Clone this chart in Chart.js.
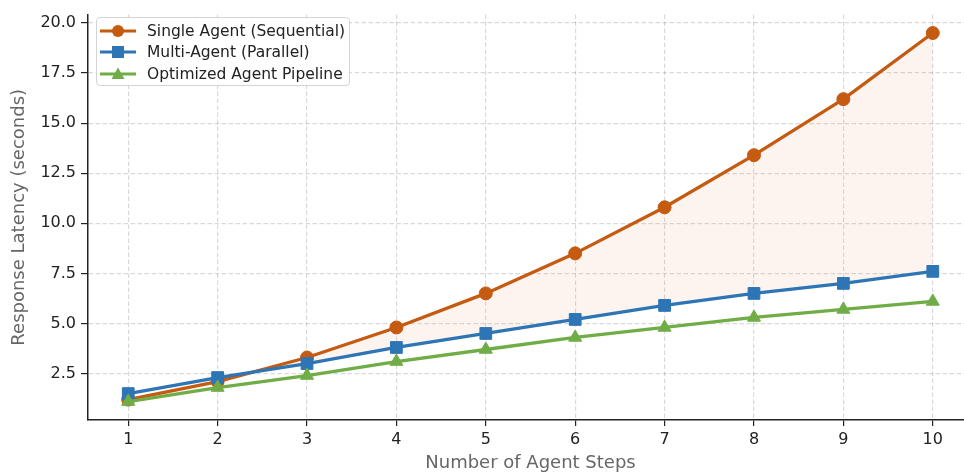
<!DOCTYPE html>
<html>
<head>
<meta charset="utf-8">
<script src="https://cdn.jsdelivr.net/npm/chart.js@4/dist/chart.umd.min.js"></script>
<style>
  html, body { margin: 0; padding: 0; background: #fff; overflow: hidden; }
  #wrap { position: absolute; left: 0; top: 0; width: 1000px; height: 480px; }
  #legend {
    position: absolute; left: 96px; top: 17px; width: 254px; height: 69px;
    border: 1px solid #d4d4d4; border-radius: 4px; background: rgba(255,255,255,0.85);
    font-family: "DejaVu Sans", sans-serif; font-size: 15.5px; color: #222;
    padding-top: 2px; box-sizing: border-box;
  }
  .row { height: 21.5px; display: flex; align-items: center; white-space: nowrap; }
  .row svg { margin-left: 3px; margin-right: 11px; }
</style>
</head>
<body>
<div id="wrap">
  <canvas id="chart" width="1000" height="480"></canvas>
  <div id="legend"></div>
</div>
<script>
const steps = [1, 2, 3, 4, 5, 6, 7, 8, 9, 10];
const singleAgent = [1.2, 2.1, 3.3, 4.8, 6.5, 8.5, 10.8, 13.4, 16.2, 19.5];
const multiAgent = [1.5, 2.3, 3.0, 3.8, 4.5, 5.2, 5.9, 6.5, 7.0, 7.6];
const optimized = [1.1, 1.8, 2.4, 3.1, 3.7, 4.3, 4.8, 5.3, 5.7, 6.1];
const seriesNames = ['Single Agent (Sequential)', 'Multi-Agent (Parallel)', 'Optimized Agent Pipeline'];
const yTicks = [2.5, 5.0, 7.5, 10.0, 12.5, 15.0, 17.5, 20.0];

const orange = '#C55A11';
const blue = '#2E75B6';
const green = '#70AD47';
const font = 'DejaVu Sans';

function pts(values) {
    return steps.map((s, i) => ({ x: s, y: values[i] }));
}

function lineSet(label, values, color, style, radius, order) {
    return {
        label: label,
        data: pts(values),
        borderColor: color,
        backgroundColor: color,
        borderWidth: 3.3,
        pointStyle: style,
        pointRadius: radius,
        pointHoverRadius: radius,
        pointBackgroundColor: color,
        pointBorderColor: color,
        pointBorderWidth: 1,
        tension: 0,
        fill: false,
        order: order
    };
}

const single = lineSet(seriesNames[0], singleAgent, orange, 'circle', 6.5, 3);
single.fill = { target: 1, above: 'rgba(230,120,60,0.08)', below: 'rgba(0,0,0,0)' };

const datasets = [
    single,
    lineSet(seriesNames[1], multiAgent, blue, 'rect', 8.3, 2),
    lineSet(seriesNames[2], optimized, green, 'triangle', 7.5, 1)
];

const gridStyle = {
    color: 'rgba(0,0,0,0.15)',
    lineWidth: 1.2,
    tickColor: '#222',
    tickWidth: 1.2,
    drawTicks: true
};

const chart = new Chart(document.getElementById('chart'), {
    type: 'line',
    data: { datasets: datasets },
    options: {
        responsive: false,
        animation: false,
        layout: { padding: { left: 0, top: 9, right: 27, bottom: 0 } },
        plugins: { legend: { display: false }, tooltip: { enabled: false } },
        scales: {
            x: {
                type: 'linear',
                min: 0.55,
                max: 10.45,
                afterFit: (scale) => { scale.height = 60; },
                afterBuildTicks: (scale) => { scale.ticks = steps.map(v => ({ value: v })); },
                ticks: { color: '#222', font: { family: font, size: 16 }, padding: 4,
                         callback: (v) => String(v) },
                grid: Object.assign({}, gridStyle, { tickLength: 6 }),
                border: { display: true, color: '#222', width: 1.5, dash: [4.5, 2.5] },
                title: { display: true, text: 'Number of Agent Steps', color: '#666',
                         font: { family: font, size: 18 }, padding: { top: 0, bottom: 6 } }
            },
            y: {
                type: 'linear',
                min: 0.18,
                max: 20.42,
                afterFit: (scale) => { scale.width = 88; },
                afterBuildTicks: (scale) => { scale.ticks = yTicks.map(v => ({ value: v })); },
                ticks: { color: '#222', font: { family: font, size: 16 }, padding: 5,
                         callback: (v) => v.toFixed(1) },
                grid: Object.assign({}, gridStyle, { tickLength: 7 }),
                border: { display: true, color: '#222', width: 1.5, dash: [4.5, 2.5] },
                title: { display: true, text: 'Response Latency (seconds)', color: '#666',
                         font: { family: font, size: 18 }, padding: { top: 9, bottom: 0 } }
            }
        }
    }
});

// legend drawn as html, from the dataset settings
const legendEl = document.getElementById('legend');
datasets.forEach(ds => {
    const c = ds.borderColor;
    let marker = '';
    if (ds.pointStyle === 'circle') {
        marker = `<circle cx="18" cy="8" r="6" fill="${c}"/>`;
    } else if (ds.pointStyle === 'rect') {
        marker = `<rect x="12" y="2" width="12" height="12" fill="${c}"/>`;
    } else {
        marker = `<polygon points="18,1.5 24.5,13 11.5,13" fill="${c}"/>`;
    }
    const row = document.createElement('div');
    row.className = 'row';
    row.innerHTML = `<svg width="36" height="16"><line x1="0" y1="8" x2="36" y2="8" stroke="${c}" stroke-width="3"/>${marker}</svg><span>${ds.label}</span>`;
    legendEl.appendChild(row);
});
</script>
</body>
</html>
